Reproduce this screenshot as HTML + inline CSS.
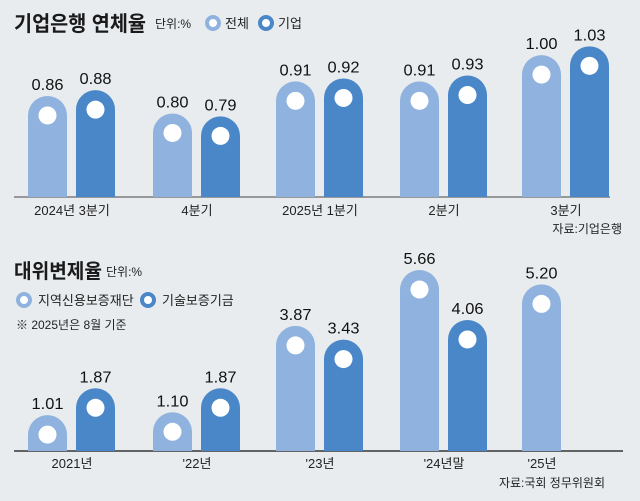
<!DOCTYPE html>
<html><head><meta charset="utf-8"><style>
body{margin:0;background:#e9ecef;}
svg{display:block;font-family:"Liberation Sans","Noto Sans CJK KR",sans-serif;}
</style></head><body>
<svg id="c" width="640" height="501" viewBox="0 0 640 501">
<rect width="640" height="501" fill="#e9ecef"/>
<text x="14" y="31" font-size="21" font-weight="bold" fill="#1a1a1a" textLength="132" lengthAdjust="spacingAndGlyphs">기업은행 연체율</text>
<text x="155" y="28" font-size="12" fill="#222">단위:%</text>
<circle cx="213" cy="23" r="6" fill="#fff" stroke="#8fb3de" stroke-width="4"/>
<text x="225" y="28" font-size="13" fill="#222">전체</text>
<circle cx="266" cy="23" r="6" fill="#fff" stroke="#4a87c8" stroke-width="4"/>
<text x="278" y="28" font-size="13" fill="#222">기업</text>
<line x1="14" y1="197" x2="610" y2="197" stroke="#666" stroke-width="1.2"/>
<text x="622" y="233" font-size="12" text-anchor="end" fill="#222">자료:기업은행</text>

<text x="14" y="278" font-size="20" font-weight="bold" fill="#1a1a1a" textLength="88" lengthAdjust="spacingAndGlyphs">대위변제율</text>
<text x="106" y="276" font-size="12" fill="#222">단위:%</text>
<circle cx="24" cy="300" r="6" fill="#fff" stroke="#8fb3de" stroke-width="4"/>
<text x="38" y="305" font-size="13" fill="#222">지역신용보증재단</text>
<circle cx="148" cy="300" r="6" fill="#fff" stroke="#4a87c8" stroke-width="4"/>
<text x="162" y="305" font-size="13" fill="#222">기술보증기금</text>
<text x="16" y="329" font-size="12" fill="#222">※ 2025년은 8월 기준</text>
<line x1="14" y1="451" x2="623" y2="451" stroke="#111" stroke-width="1.2"/>
<text x="605" y="487" font-size="12" text-anchor="end" fill="#222">자료:국회 정무위원회</text>
</svg>
<script>
const topCats=["2024년 3분기","4분기","2025년 1분기","2분기","3분기"];
const topAll=[0.86,0.80,0.91,0.91,1.00];
const topCorp=[0.88,0.79,0.92,0.93,1.03];
const botCats=["2021년","'22년","'23년","'24년말","'25년"];
const botRegional=[1.01,1.10,3.87,5.66,5.20];
const botTech=[1.87,1.87,3.43,4.06,null];

const svg=document.getElementById('c');
const NS="http://www.w3.org/2000/svg";
function mk(t,a){const e=document.createElementNS(NS,t);for(const k in a)e.setAttribute(k,a[k]);svg.appendChild(e);return e;}
function yTop(v){return 197-(v-0.514)*292;}
function yBot(v){return 451-(v+0.14)*31.2;}
const groupX=[28,153,276,400,522];
const bw=39;
function bar(x,base,top,color,val,name){
  const r=bw/2;
  const p=mk('path',{d:`M${x},${base} L${x},${top+r} A${r},${r} 0 0 1 ${x+bw},${top+r} L${x+bw},${base} Z`,fill:color});
  
  
  const c=mk('circle',{cx:x+r,cy:top+r,r:9,fill:'#fff'});
  
  
  const t=mk('text',{x:x+r,y:top-6,'font-size':16,'text-anchor':'middle',fill:'#111',textLength:32,lengthAdjust:'spacingAndGlyphs'});
  t.textContent=val.toFixed(2);
  
  
}
const L='#8fb3de',D='#4a87c8';
for(let i=0;i<5;i++){
  const x=groupX[i];
  bar(x,197,yTop(topAll[i]),L,topAll[i],'bar-top-all-'+i);
  bar(x+48,197,yTop(topCorp[i]),D,topCorp[i],'bar-top-corp-'+i);
  const t=mk('text',{x:x+44,y:215,'font-size':13,'text-anchor':'middle',fill:'#222'});
  t.textContent=topCats[i];
  
  
  bar(x,451,yBot(botRegional[i]),L,botRegional[i],'bar-bot-regional-'+i);
  if(botTech[i]!=null) bar(x+48,451,yBot(botTech[i]),D,botTech[i],'bar-bot-tech-'+i);
  const t2=mk('text',{x:(botTech[i]!=null?x+44:x+20),y:468,'font-size':13,'text-anchor':'middle',fill:'#222'});
  t2.textContent=botCats[i];
  
  
}
</script>
</body></html>
